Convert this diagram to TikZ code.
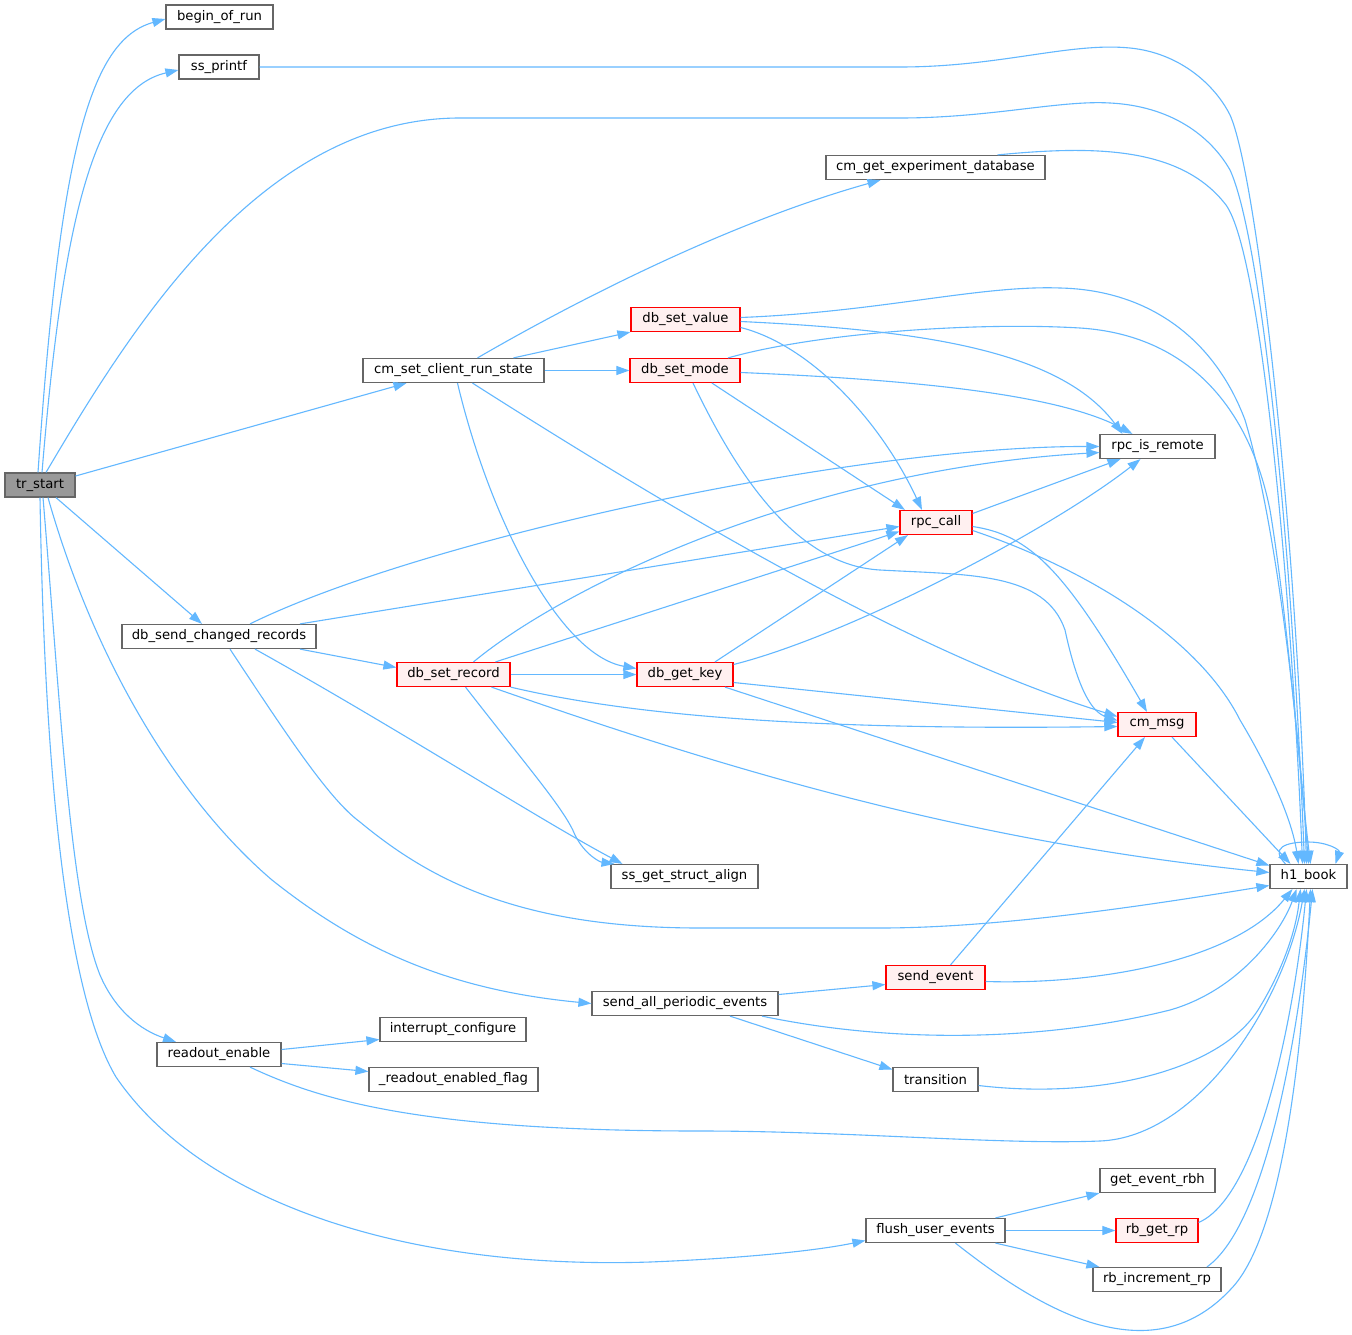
\documentclass[tikz,border=0pt]{standalone}
\usepackage{fontspec}
\setmainfont{DejaVu Sans}
\usetikzlibrary{arrows.meta}
\definecolor{edgec}{HTML}{63B8FF}
\definecolor{nodeb}{HTML}{666666}
\definecolor{rootf}{HTML}{999999}
\definecolor{redf}{HTML}{FFF0F0}
\begin{document}
\begin{tikzpicture}[x=1pt,y=-1pt,
  fn/.style={draw=nodeb, line width=1.2pt, fill=white, minimum height=24pt, inner sep=0pt, font=\fontsize{13.2}{15}\selectfont},
  rootn/.style={fn, fill=rootf},
  redn/.style={fn, draw=red, fill=redf},
  cedge/.style={draw=edgec, line width=1.1pt, -{Triangle[length=13pt,width=9pt]}}]
\useasboundingbox[fill=white] (0,0) rectangle (1352,1335);
% nodes
\node[rootn, minimum width=70pt]  (tr)    at (40,485)      {tr\_start};
\node[fn,   minimum width=107pt]  (bor)   at (219.5,17)    {begin\_of\_run};
\node[fn,   minimum width=80pt]   (ssp)   at (219,67)      {ss\_printf};
\node[fn,   minimum width=219pt]  (cged)  at (935.5,167.5) {cm\_get\_experiment\_database};
\node[redn, minimum width=109pt]  (dsv)   at (685.5,319.5) {db\_set\_value};
\node[fn,   minimum width=181pt]  (cscrs) at (453.5,370.5) {cm\_set\_client\_run\_state};
\node[redn, minimum width=110pt]  (dsm)   at (685,370.5)   {db\_set\_mode};
\node[fn,   minimum width=115pt]  (rir)   at (1157.5,446.5){rpc\_is\_remote};
\node[redn, minimum width=72pt]   (rpc)   at (936,522.5)   {rpc\_call};
\node[fn,   minimum width=194pt]  (dscr)  at (219,636.5)   {db\_send\_changed\_records};
\node[redn, minimum width=113pt]  (dsr)   at (453.5,674.5) {db\_set\_record};
\node[redn, minimum width=96pt]   (dgk)   at (685,674.5)   {db\_get\_key};
\node[redn, minimum width=78pt]   (cmm)   at (1157,724.5)  {cm\_msg};
\node[fn,   minimum width=147pt]  (ssga)  at (684.5,876.5) {ss\_get\_struct\_align};
\node[fn,   minimum width=77pt]   (h1)    at (1308.5,876.5){h1\_book};
\node[redn, minimum width=99pt]   (sev)   at (935.5,977.5) {send\_event};
\node[fn,   minimum width=186pt]  (sape)  at (685,1003.5)  {send\_all\_periodic\_events};
\node[fn,   minimum width=146pt]  (icf)   at (453,1029.5)  {interrupt\_configure};
\node[fn,   minimum width=124pt]  (roe)   at (219,1054.5)  {readout\_enable};
\node[fn,   minimum width=169pt]  (ref)   at (453.5,1079.5){\_readout\_enabled\_flag};
\node[fn,   minimum width=85pt]   (trn)   at (935.5,1079.5){transition};
\node[fn,   minimum width=115pt]  (gerb)  at (1157.5,1180.5){get\_event\_rbh};
\node[fn,   minimum width=139pt]  (fue)   at (935.5,1230.5){flush\_user\_events};
\node[redn, minimum width=82pt]   (rgr)   at (1157,1230.5) {rb\_get\_rp};
\node[fn,   minimum width=128pt]  (rbi)   at (1157,1279.5) {rb\_increment\_rp};
% edges from tr_start
\draw[cedge] ([xshift=-2pt]tr.north) .. controls (60,150) and (90,40) .. ([yshift=-2pt]bor.west);
\draw[cedge] ([xshift=2pt]tr.north) .. controls (62,230) and (92,90) .. ([yshift=-3pt]ssp.west);
\draw[cedge] ([xshift=6pt]tr.north) .. controls (130,330) and (260,118) .. (460,118) -- (900,118)
   .. controls (990,118) and (1060,100) .. (1110,103) .. controls (1170,106) and (1210,135) .. (1230,170)
   .. controls (1258,230) and (1290,500) .. ([xshift=-4pt]h1.north);
\draw[cedge] ([yshift=9pt]tr.east) -- ([xshift=-47pt]cscrs.south);
\draw[cedge] ([xshift=16pt]tr.south) -- ([xshift=-17pt]dscr.north);
\draw[cedge] ([xshift=8pt]tr.south) .. controls (100,680) and (190,810) .. (272,880) .. controls (360,950) and (450,990) .. (sape.west);
\draw[cedge] ([xshift=3pt]tr.south) .. controls (60,700) and (70,900) .. (100,975) .. controls (115,1010) and (140,1030) .. ([xshift=-43pt]roe.north);
\draw[cedge] (tr.south) .. controls (45,800) and (70,1000) .. (116,1077) .. controls (200,1200) and (400,1270) .. (650,1262)
   .. controls (750,1258) and (820,1250) .. ([yshift=-10pt]fue.west);
% ss_printf, cm_get_experiment_database
\draw[cedge] (ssp.east) -- (900,67) .. controls (1000,67) and (1070,42) .. (1130,48) .. controls (1180,53) and (1215,85) .. (1230,115)
   .. controls (1255,170) and (1295,500) .. ([xshift=-2pt]h1.north);
\draw[cedge] ([xshift=62pt]cged.north) .. controls (1090,146) and (1180,145) .. (1226,205) .. controls (1262,255) and (1292,600) .. ([xshift=-6pt]h1.north);
% cm_set_client_run_state
\draw[cedge] ([xshift=24pt]cscrs.north) .. controls (560,310) and (720,225) .. ([xshift=-55pt]cged.south);
\draw[cedge] ([xshift=60pt]cscrs.north) -- (dsv.south west);
\draw[cedge] (cscrs.east) -- (dsm.west);
\draw[cedge] ([xshift=4pt]cscrs.south) .. controls (490,520) and (560,655) .. ([yshift=6pt]dgk.west);
\draw[cedge] ([xshift=19pt]cscrs.south) .. controls (750,560) and (950,665) .. ([yshift=8pt]cmm.west);
% db_set_value
\draw[cedge] ([yshift=2pt]dsv.east) .. controls (880,312) and (980,285) .. (1060,288) .. controls (1150,290) and (1215,340) .. (1245,420)
   .. controls (1275,520) and (1296,700) .. (h1.north);
\draw[cedge] ([yshift=-2pt]dsv.east) .. controls (920,330) and (1060,350) .. ([xshift=-35pt]rir.north);
\draw[cedge] ([yshift=-8pt]dsv.east) .. controls (810,345) and (880,420) .. ([xshift=-14pt]rpc.north);
% db_set_mode
\draw[cedge] ([xshift=43pt]dsm.north) .. controls (820,332) and (980,322) .. (1080,328) .. controls (1190,335) and (1250,410) .. (1270,510)
   .. controls (1288,620) and (1298,760) .. ([xshift=2pt]h1.north);
\draw[cedge] ([yshift=-2pt]dsm.east) .. controls (920,380) and (1060,395) .. ([xshift=-25pt]rir.north);
\draw[cedge] ([xshift=27pt]dsm.south) -- ([xshift=-31pt]rpc.north);
\draw[cedge] ([xshift=8pt]dsm.south) .. controls (730,460) and (790,565) .. (880,570) .. controls (970,575) and (1045,572) .. (1065,630)
   .. controls (1078,690) and (1092,712) .. ([yshift=4pt]cmm.west);
% rpc_call
\draw[cedge] ([yshift=9pt]rpc.east) -- ([xshift=-37pt]rir.south);
\draw[cedge] ([yshift=-4pt]rpc.east) .. controls (1030,535) and (1065,570) .. ([xshift=-10pt]cmm.north);
\draw[cedge] ([yshift=-8pt]rpc.east) .. controls (1090,570) and (1200,640) .. (1240,720) .. controls (1270,770) and (1292,820) .. ([xshift=-10pt]h1.north);
% db_send_changed_records
\draw[cedge] ([xshift=31pt]dscr.north) .. controls (420,540) and (850,446) .. (rir.west);
\draw[cedge] ([xshift=81pt]dscr.north) -- ([yshift=-4pt]rpc.west);
\draw[cedge] ([xshift=81pt]dscr.south) -- ([yshift=7pt]dsr.west);
\draw[cedge] ([xshift=36pt]dscr.south) .. controls (400,730) and (540,820) .. ([xshift=-62pt]ssga.north);
\draw[cedge] ([xshift=11pt]dscr.south) .. controls (290,740) and (330,800) .. (360,822) .. controls (430,880) and (520,928) .. (700,928)
   -- (880,928) .. controls (1000,928) and (1150,905) .. ([yshift=-9pt]h1.west);
% db_set_record
\draw[cedge] ([xshift=20pt]dsr.north) .. controls (560,590) and (800,470) .. ([yshift=-6pt]rir.west);
\draw[cedge] ([xshift=42pt]dsr.north) -- ([yshift=-9pt]rpc.west);
\draw[cedge] (dsr.east) -- (dgk.west);
\draw[cedge] (dsr.south east) .. controls (650,720) and (850,730) .. ([yshift=-2pt]cmm.west);
\draw[cedge] ([xshift=38pt]dsr.south) .. controls (700,760) and (950,840) .. ([yshift=4pt]h1.west);
\draw[cedge] ([xshift=12pt]dsr.south) .. controls (530,770) and (565,810) .. (575,835) .. controls (585,855) and (600,862) .. ([xshift=-70pt]ssga.north);
% db_get_key
\draw[cedge] ([xshift=30pt]dgk.north) -- ([xshift=-28pt]rpc.south);
\draw[cedge] ([yshift=10pt]dgk.east) .. controls (850,635) and (1050,530) .. ([xshift=-17pt]rir.south);
\draw[cedge] ([yshift=-8pt]dgk.east) -- ([yshift=2pt]cmm.west);
\draw[cedge] ([xshift=40pt]dgk.south) -- ([yshift=11pt]h1.west);
% cm_msg, h1_book
\draw[cedge] ([xshift=15pt]cmm.south) -- ([xshift=-18pt]h1.north);
\draw[cedge] ([xshift=-23pt]h1.north) .. controls (1270,848) and (1285,842) .. (1308,842) .. controls (1328,842) and (1340,850) .. ([xshift=27pt]h1.north);
% send_all_periodic_events
\draw[cedge] ([yshift=9pt]sape.east) -- ([yshift=-7pt]sev.west);
\draw[cedge] ([xshift=45pt]sape.south) -- ([yshift=10pt]trn.west);
\draw[cedge] ([xshift=77pt]sape.south) .. controls (900,1045) and (1050,1040) .. (1170,1010) .. controls (1240,990) and (1282,930) .. ([xshift=-12pt]h1.south);
% send_event, transition
\draw[cedge] ([xshift=15pt]sev.north) -- ([xshift=-12pt]cmm.south);
\draw[cedge] ([yshift=-4pt]sev.east) .. controls (1100,985) and (1235,960) .. ([xshift=-16pt]h1.south);
\draw[cedge] ([yshift=-6pt]trn.east) .. controls (1100,1100) and (1220,1070) .. (1258,1010) .. controls (1283,970) and (1296,930) .. ([xshift=-8pt]h1.south);
% readout_enable
\draw[cedge] ([yshift=5pt]roe.east) -- ([yshift=-10pt]icf.west);
\draw[cedge] ([yshift=-9pt]roe.east) -- ([yshift=8pt]ref.west);
\draw[cedge] ([xshift=31pt]roe.south) .. controls (320,1100) and (420,1131) .. (700,1131)
   .. controls (850,1131) and (1000,1145) .. (1100,1141) .. controls (1200,1137) and (1285,1000) .. ([xshift=-4pt]h1.south);
% flush_user_events
\draw[cedge] ([xshift=60pt]fue.north) -- (gerb.south west);
\draw[cedge] (fue.east) -- (rgr.west);
\draw[cedge] ([xshift=60pt]fue.south) -- ([xshift=7pt]rbi.north west);
\draw[cedge] ([xshift=20pt]fue.south) .. controls (1040,1310) and (1150,1375) .. (1230,1290) .. controls (1290,1230) and (1305,1000) .. ([xshift=2pt]h1.south);
\draw[cedge] ([yshift=8pt]rgr.east) .. controls (1262,1195) and (1296,1000) .. ([xshift=-2pt]h1.south);
\draw[cedge] ([xshift=50pt]rbi.north) .. controls (1272,1220) and (1302,1000) .. ([xshift=4pt]h1.south);
\end{tikzpicture}
\end{document}
